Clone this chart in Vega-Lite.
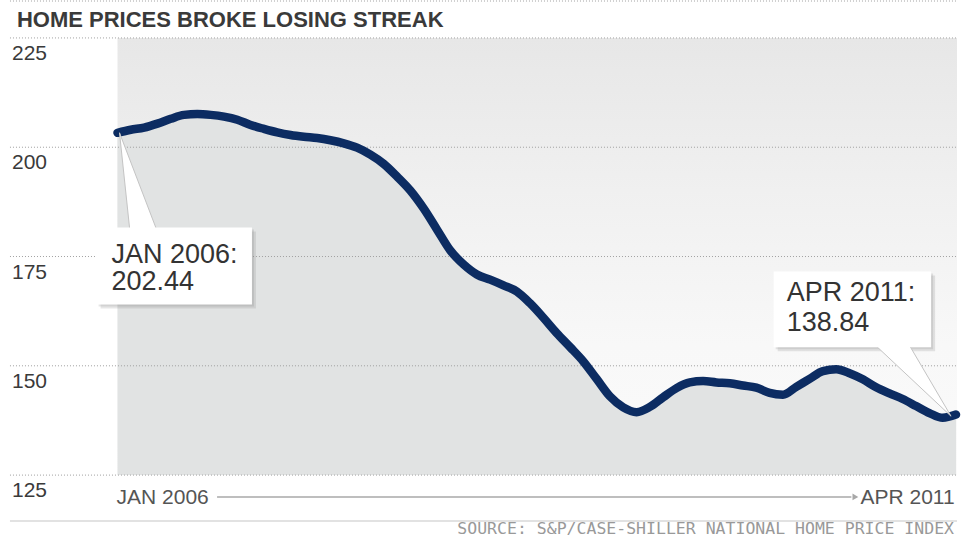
{
  "$schema": "https://vega.github.io/schema/vega-lite/v6.json",
  "width": 961,
  "height": 538,
  "autosize": {"type": "fit", "contains": "padding"},
  "padding": 0,
  "background": "white",
  "config": {"view": {"stroke": null}, "font": "Liberation Sans"},
  "datasets": {
    "bg": [{"x1": 0, "x2": 63.075, "y1": 125, "y2": 225}],
    "grid": [
      {"x1": -8.08, "x2": 63.075, "v": 233.45},
      {"x1": -8.08, "x2": 63.075, "v": 225},
      {"x1": -8.08, "x2": 63.075, "v": 200},
      {"x1": -8.08, "x2": 63.075, "v": 175},
      {"x1": -8.08, "x2": 63.075, "v": 150},
      {"x1": -8.08, "x2": 63.075, "v": 125}
    ],
    "ylabels": [
      {"m": -7.93, "tick": 225},
      {"m": -7.93, "tick": 200},
      {"m": -7.93, "tick": 175},
      {"m": -7.93, "tick": 150},
      {"m": -7.93, "tick": 125}
    ],
    "series": [
      {"date": "2006-01", "i": 0, "value": 203.3},
      {"date": "2006-02", "i": 1, "value": 204.0},
      {"date": "2006-03", "i": 2, "value": 204.5},
      {"date": "2006-04", "i": 3, "value": 205.4},
      {"date": "2006-05", "i": 4, "value": 206.5},
      {"date": "2006-06", "i": 5, "value": 207.4},
      {"date": "2006-07", "i": 6, "value": 207.6},
      {"date": "2006-08", "i": 7, "value": 207.4},
      {"date": "2006-09", "i": 8, "value": 207.0},
      {"date": "2006-10", "i": 9, "value": 206.3},
      {"date": "2006-11", "i": 10, "value": 205.1},
      {"date": "2006-12", "i": 11, "value": 204.2},
      {"date": "2007-01", "i": 12, "value": 203.4},
      {"date": "2007-02", "i": 13, "value": 202.8},
      {"date": "2007-03", "i": 14, "value": 202.4},
      {"date": "2007-04", "i": 15, "value": 202.1},
      {"date": "2007-05", "i": 16, "value": 201.6},
      {"date": "2007-06", "i": 17, "value": 200.9},
      {"date": "2007-07", "i": 18, "value": 199.9},
      {"date": "2007-08", "i": 19, "value": 198.3},
      {"date": "2007-09", "i": 20, "value": 196.2},
      {"date": "2007-10", "i": 21, "value": 193.3},
      {"date": "2007-11", "i": 22, "value": 190.1},
      {"date": "2007-12", "i": 23, "value": 186.0},
      {"date": "2008-01", "i": 24, "value": 181.2},
      {"date": "2008-02", "i": 25, "value": 176.4},
      {"date": "2008-03", "i": 26, "value": 173.2},
      {"date": "2008-04", "i": 27, "value": 170.9},
      {"date": "2008-05", "i": 28, "value": 169.7},
      {"date": "2008-06", "i": 29, "value": 168.4},
      {"date": "2008-07", "i": 30, "value": 167.0},
      {"date": "2008-08", "i": 31, "value": 164.3},
      {"date": "2008-09", "i": 32, "value": 161.0},
      {"date": "2008-10", "i": 33, "value": 157.5},
      {"date": "2008-11", "i": 34, "value": 154.3},
      {"date": "2008-12", "i": 35, "value": 151.0},
      {"date": "2009-01", "i": 36, "value": 147.0},
      {"date": "2009-02", "i": 37, "value": 143.0},
      {"date": "2009-03", "i": 38, "value": 140.5},
      {"date": "2009-04", "i": 39, "value": 139.4},
      {"date": "2009-05", "i": 40, "value": 140.6},
      {"date": "2009-06", "i": 41, "value": 142.8},
      {"date": "2009-07", "i": 42, "value": 144.9},
      {"date": "2009-08", "i": 43, "value": 146.2},
      {"date": "2009-09", "i": 44, "value": 146.5},
      {"date": "2009-10", "i": 45, "value": 146.2},
      {"date": "2009-11", "i": 46, "value": 146.0},
      {"date": "2009-12", "i": 47, "value": 145.5},
      {"date": "2010-01", "i": 48, "value": 145.0},
      {"date": "2010-02", "i": 49, "value": 143.8},
      {"date": "2010-03", "i": 50, "value": 143.4},
      {"date": "2010-04", "i": 51, "value": 145.2},
      {"date": "2010-05", "i": 52, "value": 147.0},
      {"date": "2010-06", "i": 53, "value": 148.8},
      {"date": "2010-07", "i": 54, "value": 149.2},
      {"date": "2010-08", "i": 55, "value": 148.3},
      {"date": "2010-09", "i": 56, "value": 146.9},
      {"date": "2010-10", "i": 57, "value": 145.1},
      {"date": "2010-11", "i": 58, "value": 143.7},
      {"date": "2010-12", "i": 59, "value": 142.4},
      {"date": "2011-01", "i": 60, "value": 140.8},
      {"date": "2011-02", "i": 61, "value": 139.2},
      {"date": "2011-03", "i": 62, "value": 138.1},
      {"date": "2011-04", "i": 63, "value": 138.84}
    ],
    "shadows": [
      {"x1": -1.421, "x2": 10.251, "y1": 181.16, "y2": 163.58},
      {"x1": -1.272, "x2": 10.4, "y1": 180.71, "y2": 163.13},
      {"x1": 49.45, "x2": 61.28, "y1": 171.12, "y2": 153.76},
      {"x1": 49.6, "x2": 61.43, "y1": 170.67, "y2": 153.31}
    ],
    "pointers": [
      {"id": "jan", "v": 203.31, "x1": 0.15, "x2": 0.15},
      {"id": "jan", "v": 180.71, "x1": 0.935, "x2": 2.993},
      {"id": "apr", "v": 138.47, "x1": 62.627, "x2": 62.627},
      {"id": "apr", "v": 155.14, "x1": 56.79, "x2": 59.41}
    ],
    "boxes": [
      {"x1": -1.571, "x2": 10.101, "y1": 181.62, "y2": 164.04},
      {"x1": 49.3, "x2": 61.13, "y1": 171.58, "y2": 154.22}
    ],
    "notes": [
      {"m": -0.449, "v": 173.63, "t": "JAN 2006:"},
      {"m": -0.449, "v": 167.24, "t": "202.44"},
      {"m": 50.28, "v": 164.73, "t": "APR 2011:"},
      {"m": 50.28, "v": 157.88, "t": "138.84"}
    ],
    "xlabels": [
      {"m": -0.075, "v": 118.4, "t": "JAN 2006"},
      {"m": 55.82, "v": 118.4, "t": "APR 2011"}
    ],
    "arrow": [{"x1": 7.48, "x2": 55.14, "v": 120.0}],
    "arrowhead": [{"m": 55.44, "v": 120.0}],
    "sep": [{"x1": -8.08, "x2": 63.075, "v": 114.5}],
    "title": [{"m": -7.557, "v": 227.5, "t": "HOME PRICES BROKE LOSING STREAK"}],
    "source": [{"m": 62.85, "v": 111.53, "t": "SOURCE: S&P/CASE-SHILLER NATIONAL HOME PRICE INDEX"}]
  },
  "layer": [
    {
      "data": {"name": "bg"},
      "mark": {
        "type": "rect",
        "fill": {
          "gradient": "linear", "x1": 0, "y1": 0, "x2": 0, "y2": 1,
          "stops": [
            {"offset": 0, "color": "#e7e7e7"},
            {"offset": 0.35, "color": "#f0f0f0"},
            {"offset": 0.7, "color": "#f8f8f8"},
            {"offset": 1, "color": "#fafafa"}
          ]
        }
      },
      "encoding": {
        "x": {"field": "x1", "type": "quantitative", "scale": {"domain": [-8.829, 63.075], "nice": false, "zero": false}, "axis": null},
        "x2": {"field": "x2"},
        "y": {"field": "y1", "type": "quantitative", "scale": {"domain": [110.84, 233.68], "nice": false, "zero": false}, "axis": null},
        "y2": {"field": "y2"}
      }
    },
    {
      "data": {"name": "series"},
      "mark": {"type": "area", "interpolate": "monotone", "fill": "#e1e3e3"},
      "encoding": {
        "x": {"field": "i", "type": "quantitative", "scale": {"domain": [-8.829, 63.075], "nice": false, "zero": false}, "axis": null},
        "y": {"field": "value", "type": "quantitative", "scale": {"domain": [110.84, 233.68], "nice": false, "zero": false}, "axis": null},
        "y2": {"datum": 125}
      }
    },
    {
      "data": {"name": "grid"},
      "mark": {"type": "rule", "stroke": "#a0a0a0", "strokeWidth": 1, "strokeDash": [1, 2]},
      "encoding": {
        "x": {"field": "x1", "type": "quantitative", "scale": {"domain": [-8.829, 63.075], "nice": false, "zero": false}, "axis": null},
        "x2": {"field": "x2"},
        "y": {"field": "v", "type": "quantitative", "scale": {"domain": [110.84, 233.68], "nice": false, "zero": false}, "axis": null}
      }
    },
    {
      "data": {"name": "ylabels"},
      "mark": {"type": "text", "fontSize": 21, "color": "#3a3a3a", "align": "left", "baseline": "alphabetic", "dy": 22, "font": "Liberation Sans"},
      "encoding": {
        "x": {"field": "m", "type": "quantitative", "scale": {"domain": [-8.829, 63.075], "nice": false, "zero": false}, "axis": null},
        "y": {"field": "tick", "type": "quantitative", "scale": {"domain": [110.84, 233.68], "nice": false, "zero": false}, "axis": null},
        "text": {"field": "tick", "type": "quantitative", "format": "d"}
      }
    },
    {
      "data": {"name": "series"},
      "mark": {"type": "line", "interpolate": "monotone", "stroke": "#0c2c62", "strokeWidth": 8.5, "strokeCap": "round", "strokeJoin": "round"},
      "encoding": {
        "x": {"field": "i", "type": "quantitative", "scale": {"domain": [-8.829, 63.075], "nice": false, "zero": false}, "axis": null},
        "y": {"field": "value", "type": "quantitative", "scale": {"domain": [110.84, 233.68], "nice": false, "zero": false}, "axis": null}
      }
    },
    {
      "data": {"name": "shadows"},
      "mark": {"type": "rect", "fill": "#808080", "opacity": 0.2},
      "encoding": {
        "x": {"field": "x1", "type": "quantitative", "scale": {"domain": [-8.829, 63.075], "nice": false, "zero": false}, "axis": null},
        "x2": {"field": "x2"},
        "y": {"field": "y1", "type": "quantitative", "scale": {"domain": [110.84, 233.68], "nice": false, "zero": false}, "axis": null},
        "y2": {"field": "y2"}
      }
    },
    {
      "data": {"name": "pointers"},
      "mark": {"type": "area", "orient": "horizontal", "fill": "white", "stroke": "#c4c4c4", "strokeWidth": 1},
      "encoding": {
        "y": {"field": "v", "type": "quantitative", "scale": {"domain": [110.84, 233.68], "nice": false, "zero": false}, "axis": null},
        "x": {"field": "x1", "type": "quantitative", "scale": {"domain": [-8.829, 63.075], "nice": false, "zero": false}, "axis": null},
        "x2": {"field": "x2"},
        "detail": {"field": "id"}
      }
    },
    {
      "data": {"name": "boxes"},
      "mark": {"type": "rect", "fill": "white"},
      "encoding": {
        "x": {"field": "x1", "type": "quantitative", "scale": {"domain": [-8.829, 63.075], "nice": false, "zero": false}, "axis": null},
        "x2": {"field": "x2"},
        "y": {"field": "y1", "type": "quantitative", "scale": {"domain": [110.84, 233.68], "nice": false, "zero": false}, "axis": null},
        "y2": {"field": "y2"}
      }
    },
    {
      "data": {"name": "notes"},
      "mark": {"type": "text", "fontSize": 27, "color": "#333333", "align": "left", "baseline": "alphabetic", "font": "Liberation Sans"},
      "encoding": {
        "x": {"field": "m", "type": "quantitative", "scale": {"domain": [-8.829, 63.075], "nice": false, "zero": false}, "axis": null},
        "y": {"field": "v", "type": "quantitative", "scale": {"domain": [110.84, 233.68], "nice": false, "zero": false}, "axis": null},
        "text": {"field": "t"}
      }
    },
    {
      "data": {"name": "sep"},
      "mark": {"type": "rule", "stroke": "#e2e2e2", "strokeWidth": 2},
      "encoding": {
        "x": {"field": "x1", "type": "quantitative", "scale": {"domain": [-8.829, 63.075], "nice": false, "zero": false}, "axis": null},
        "x2": {"field": "x2"},
        "y": {"field": "v", "type": "quantitative", "scale": {"domain": [110.84, 233.68], "nice": false, "zero": false}, "axis": null}
      }
    },
    {
      "data": {"name": "arrow"},
      "mark": {"type": "rule", "stroke": "#a8a8a8", "strokeWidth": 1.5},
      "encoding": {
        "x": {"field": "x1", "type": "quantitative", "scale": {"domain": [-8.829, 63.075], "nice": false, "zero": false}, "axis": null},
        "x2": {"field": "x2"},
        "y": {"field": "v", "type": "quantitative", "scale": {"domain": [110.84, 233.68], "nice": false, "zero": false}, "axis": null}
      }
    },
    {
      "data": {"name": "arrowhead"},
      "mark": {"type": "point", "shape": "triangle-right", "filled": true, "fill": "#a8a8a8", "size": 45, "opacity": 1},
      "encoding": {
        "x": {"field": "m", "type": "quantitative", "scale": {"domain": [-8.829, 63.075], "nice": false, "zero": false}, "axis": null},
        "y": {"field": "v", "type": "quantitative", "scale": {"domain": [110.84, 233.68], "nice": false, "zero": false}, "axis": null}
      }
    },
    {
      "data": {"name": "xlabels"},
      "mark": {"type": "text", "fontSize": 21, "color": "#555555", "align": "left", "baseline": "alphabetic", "font": "Liberation Sans"},
      "encoding": {
        "x": {"field": "m", "type": "quantitative", "scale": {"domain": [-8.829, 63.075], "nice": false, "zero": false}, "axis": null},
        "y": {"field": "v", "type": "quantitative", "scale": {"domain": [110.84, 233.68], "nice": false, "zero": false}, "axis": null},
        "text": {"field": "t"}
      }
    },
    {
      "data": {"name": "title"},
      "mark": {"type": "text", "fontSize": 22, "fontWeight": "bold", "color": "#3a3a3a", "align": "left", "baseline": "alphabetic", "font": "Liberation Sans"},
      "encoding": {
        "x": {"field": "m", "type": "quantitative", "scale": {"domain": [-8.829, 63.075], "nice": false, "zero": false}, "axis": null},
        "y": {"field": "v", "type": "quantitative", "scale": {"domain": [110.84, 233.68], "nice": false, "zero": false}, "axis": null},
        "text": {"field": "t"}
      }
    },
    {
      "data": {"name": "source"},
      "mark": {"type": "text", "fontSize": 16.5, "color": "#999999", "align": "right", "baseline": "alphabetic", "font": "DejaVu Sans Mono"},
      "encoding": {
        "x": {"field": "m", "type": "quantitative", "scale": {"domain": [-8.829, 63.075], "nice": false, "zero": false}, "axis": null},
        "y": {"field": "v", "type": "quantitative", "scale": {"domain": [110.84, 233.68], "nice": false, "zero": false}, "axis": null},
        "text": {"field": "t"}
      }
    }
  ]
}
